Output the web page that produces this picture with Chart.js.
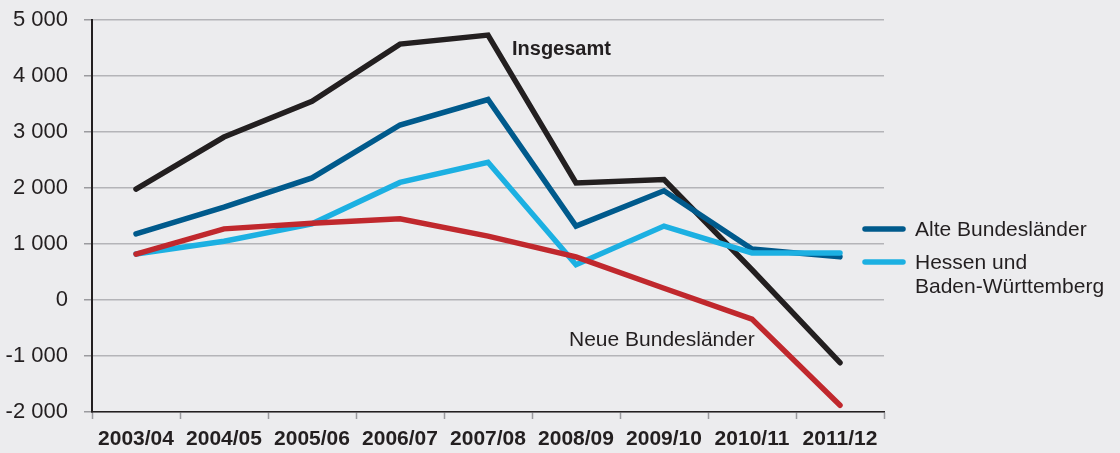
<!DOCTYPE html>
<html>
<head>
<meta charset="utf-8">
<script src="https://cdn.jsdelivr.net/npm/chart.js@4"></script>
<style>
  html, body { margin: 0; padding: 0; background: #ececee; }
  #wrap { width: 1120px; height: 453px; }
</style>
</head>
<body>
<div id="wrap"><canvas id="chart" width="1120" height="453"></canvas></div>
<script>
// categories
const years = ["2003/04", "2004/05", "2005/06", "2006/07", "2007/08", "2008/09", "2009/10", "2010/11", "2011/12"];
// series values
const insgesamt = [1980, 2910, 3550, 4570, 4730, 2090, 2150, 540, -1120];
const alteLaender = [1180, 1660, 2180, 3125, 3580, 1320, 1950, 910, 770];
const hessenBW = [820, 1050, 1360, 2100, 2460, 630, 1320, 840, 840];
const neueLaender = [820, 1270, 1370, 1450, 1140, 770, 210, -340, -1880];
// y ticks
const yMin = -2000, yMax = 5000, yStep = 1000;

const textColor = "#231f20";
const fontFamily = "'Liberation Sans', Arial, Helvetica, sans-serif";

// labels drawn next to the lines + legend on the right
const labelsPlugin = {
  id: "labelsPlugin",
  afterDatasetsDraw(chart) {
    const { ctx, chartArea, scales } = chart;
    const x = scales.x, y = scales.y;
    ctx.save();
    ctx.fillStyle = textColor;
    ctx.textBaseline = "middle";
    ctx.textAlign = "left";
    // Insgesamt
    ctx.font = "bold 20px " + fontFamily;
    ctx.fillText("Insgesamt", x.getPixelForValue(4) + 24, y.getPixelForValue(4480));
    // Neue Bundesländer
    ctx.font = "21px " + fontFamily;
    ctx.fillText("Neue Bundesländer", x.getPixelForValue(5) - 7, y.getPixelForValue(-720));

    // legend
    const lx = chartArea.right - 21;
    const items = [
      { color: "#005a8c", lines: ["Alte Bundesländer"], yv: 1270 },
      { color: "#1cb0e2", lines: ["Hessen und", "Baden-Württemberg"], yv: 680 },
    ];
    items.forEach((it) => {
      const py = y.getPixelForValue(it.yv);
      ctx.strokeStyle = it.color;
      ctx.lineWidth = 5.5;
      ctx.lineCap = "round";
      ctx.beginPath();
      ctx.moveTo(lx + 2, py);
      ctx.lineTo(lx + 40, py);
      ctx.stroke();
      ctx.fillStyle = textColor;
      it.lines.forEach((t, i) => ctx.fillText(t, lx + 52, py + 1 + i * 24));
    });
    ctx.restore();
  },
};

const bgPlugin = {
  id: "bgPlugin",
  beforeDraw(chart) {
    const { ctx, width, height } = chart;
    ctx.save();
    ctx.fillStyle = "#ececee";
    ctx.fillRect(0, 0, width, height);
    ctx.restore();
  },
};

const makeSet = (label, data, color) => ({
  label: label,
  data: data,
  borderColor: color,
  backgroundColor: color,
  borderWidth: 5.5,
  pointRadius: 0,
  tension: 0,
  borderJoinStyle: "miter",
  borderCapStyle: "round",
  fill: false,
});

new Chart(document.getElementById("chart"), {
  type: "line",
  data: {
    labels: years,
    datasets: [
      makeSet("Neue Bundesländer", neueLaender, "#c0282d"),
      makeSet("Hessen und Baden-Württemberg", hessenBW, "#1cb0e2"),
      makeSet("Alte Bundesländer", alteLaender, "#005a8c"),
      makeSet("Insgesamt", insgesamt, "#231f20"),
    ],
  },
  options: {
    responsive: false,
    animation: false,
    layout: { padding: { left: 0, right: 236, top: 20, bottom: 0 } },
    plugins: {
      legend: { display: false },
      tooltip: { enabled: false },
    },
    scales: {
      x: {
        offset: true,
        afterFit(scale) {
          scale.height = 41;
          scale.paddingLeft = 0;
          scale.paddingRight = 0;
        },
        grid: {
          offset: true,
          drawOnChartArea: false,
          tickLength: 7,
          tickColor: "#9a9a9e",
          tickWidth: 1.5,
        },
        border: { color: textColor, width: 1.5 },
        ticks: {
          color: textColor,
          padding: 8,
          maxRotation: 0,
          autoSkip: false,
          font: { family: fontFamily, size: 21, weight: "bold" },
        },
      },
      y: {
        min: yMin,
        max: yMax,
        afterFit(scale) {
          scale.width = 92;
          scale.paddingTop = 0;
          scale.paddingBottom = 0;
        },
        grid: {
          color: "#b4b4b8",
          lineWidth: 1.5,
          tickLength: 8,
          tickColor: "#9a9a9e",
        },
        border: { color: textColor, width: 2 },
        ticks: {
          stepSize: yStep,
          color: textColor,
          padding: 16,
          font: { family: fontFamily, size: 22 },
          callback: (v) => (v < 0 ? "-" : "") + Math.abs(v).toString().replace(/\B(?=(\d{3})+(?!\d))/g, " "),
        },
      },
    },
  },
  plugins: [bgPlugin, labelsPlugin],
});
</script>
</body>
</html>
